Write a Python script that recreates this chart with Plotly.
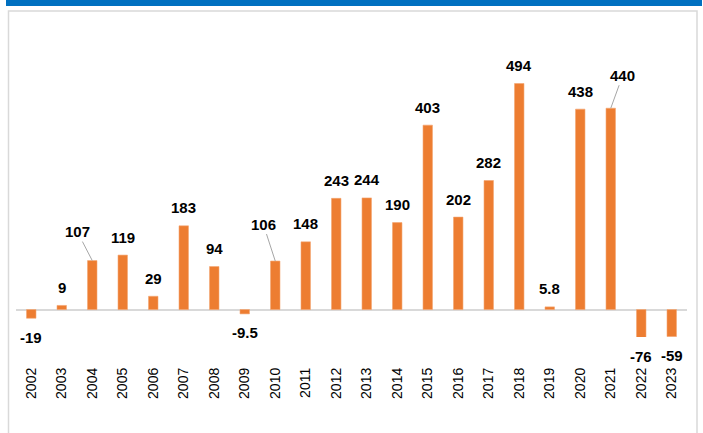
import plotly.graph_objects as go

years = [str(y) for y in range(2002, 2024)]
values = [-19, 9, 107, 119, 29, 183, 94, -9.5, 106, 148, 243, 244, 190, 403, 202, 282, 494, 5.8, 438, 440, -76, -59]
labels = ["-19", "9", "107", "119", "29", "183", "94", "-9.5", "106", "148", "243", "244", "190",
          "403", "202", "282", "494", "5.8", "438", "440", "-76", "-59"]

Y_MIN, Y_MAX = -60, 600
W, H = 703, 433
ML, MR, MT, MB = 16, 16, 35, 96
PW, PH = W - ML - MR, H - MT - MB

def px(x):
    return (x - ML) / PW

def py(y):
    return (H - MB - y) / PH

fig = go.Figure(go.Bar(
    x=years, y=values, width=0.31,
    marker=dict(color="#ED7D31", line=dict(color="#F4A470", width=0.6)),
    hoverinfo="x+y",
))

# leader-line labels: (index, ax, ay)
leader = {2: (-15, -29), 8: (-12, -37), 19: (12, -33)}
lab_font = dict(size=15, color="#000000", family="Liberation Sans, Arial", weight="bold")

annotations = []
for i, (v, t) in enumerate(zip(values, labels)):
    if i in leader:
        ax, ay = leader[i]
        annotations.append(dict(x=i, y=v, xref="x", yref="y", text=t, showarrow=True,
                                arrowhead=0, arrowcolor="#A6A6A6", arrowwidth=1,
                                ax=ax, ay=ay, standoff=0, font=lab_font))
    else:
        yv = max(v, Y_MIN)
        annotations.append(dict(x=i, y=yv, xref="x", yref="y", text=t, showarrow=False,
                                yshift=18 if v >= 0 else -19, yanchor="middle",
                                font=lab_font))

shapes = [
    dict(type="rect", xref="paper", yref="paper", x0=px(6), x1=px(702), y0=py(0), y1=py(6),
         fillcolor="#0070C0", line=dict(width=0), layer="above"),
    dict(type="rect", xref="paper", yref="paper", x0=px(8.5), x1=px(697), y0=py(11), y1=py(445),
         fillcolor="rgba(0,0,0,0)", line=dict(color="#D9D9D9", width=1.5), layer="below"),
]

fig.update_layout(
    width=W, height=H,
    margin=dict(l=ML, r=MR, t=MT, b=MB),
    paper_bgcolor="white", plot_bgcolor="white",
    showlegend=False,
    annotations=annotations,
    shapes=shapes,
    xaxis=dict(type="category", range=[-0.5, len(years) - 0.5], tickangle=-90,
               showgrid=False, showline=False, ticks="", ticklabelstandoff=27,
               tickfont=dict(size=14, color="#000000", family="Liberation Sans, Arial")),
    yaxis=dict(range=[Y_MIN, Y_MAX], showgrid=False, showticklabels=False,
               zeroline=True, zerolinecolor="#D9D9D9", zerolinewidth=1.5, showline=False),
)

fig.write_html(
    "out.html",
    config={"displayModeBar": False},
    post_script="document.body.style.margin='0px';document.body.style.overflow='hidden';",
)
